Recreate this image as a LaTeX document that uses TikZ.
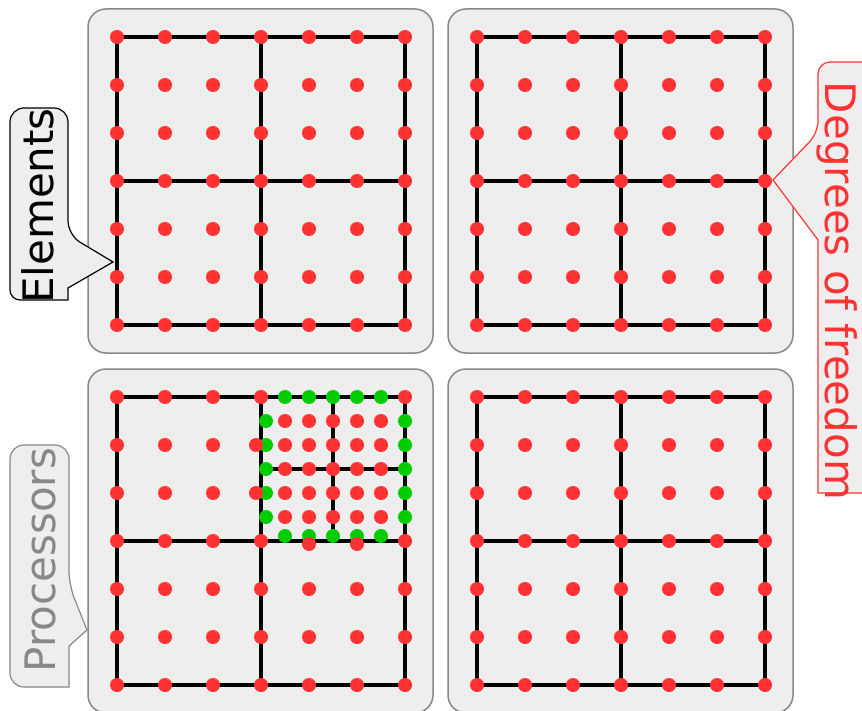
\documentclass[tikz,border=0pt]{standalone}
\usepackage{fontspec}
\setmainfont{DejaVu Sans}
\definecolor{dotred}{HTML}{FF3333}
\definecolor{dotgreen}{HTML}{00CC00}
\definecolor{panelfill}{HTML}{EEEEEE}
\definecolor{panelgray}{HTML}{888888}
\begin{document}
\begin{tikzpicture}[x=1pt,y=-1pt,
  panel/.style={draw=panelgray, fill=panelfill, line width=1.5pt, rounded corners=18pt},
  gridline/.style={line width=3.5pt, draw=black},
  rdot/.style={fill=dotred},
  gdot/.style={fill=dotgreen},
  callout/.style={fill=panelfill, line width=1.2pt, line join=miter},
  labeltext/.style={font=\fontsize{42}{42}\selectfont, inner sep=0pt, anchor=base}]
\useasboundingbox (0,0) rectangle (862,711);
\clip (0,0) rectangle (862,711);
\fill[white] (0,0) rectangle (862,711);
% panels
\foreach \px/\py in {88/9, 448/9, 88/369, 448/369}
  \draw[panel] (\px,\py) rectangle ++(345,344);
% coarse grids
\foreach \ox/\oy in {117/37, 477/37, 117/397, 477/397} {
  \draw[gridline] (\ox,\oy) rectangle ++(288,288);
  \draw[gridline] (\ox+144,\oy) -- ++(0,288);
  \draw[gridline] (\ox,\oy+144) -- ++(288,0);
}
% refined element lines
\draw[gridline] (333,397) -- (333,541);
\draw[gridline] (261,469) -- (405,469);
% coarse dots, full panels
\foreach \ox/\oy in {117/37, 477/37, 477/397}
  \foreach \i in {0,...,6}
    \foreach \j in {0,...,6}
      \fill[rdot] (\ox+48*\i,\oy+48*\j) circle (7pt);
% bottom-left panel coarse dots
\foreach \i in {0,1,2}
  \foreach \j in {0,...,6}
    \fill[rdot] (117+48*\i,397+48*\j) circle (7pt);
\foreach \i in {3,...,6}
  \foreach \j in {4,5,6}
    \fill[rdot] (117+48*\i,397+48*\j) circle (7pt);
\foreach \x/\y in {261/397, 405/397, 261/541, 405/541}
  \fill[rdot] (\x,\y) circle (7pt);
% fine interior dots
\foreach \i in {0,...,4}
  \foreach \j in {0,...,4}
    \fill[rdot] (285+24*\i,421+24*\j) circle (7pt);
% green boundary dots
\foreach \k in {0,...,4} {
  \fill[gdot] (285+24*\k,397) circle (7pt);
  \fill[gdot] (285+24*\k,536) circle (7pt);
  \fill[gdot] (266,421+24*\k) circle (7pt);
  \fill[gdot] (405,421+24*\k) circle (7pt);
}
% shifted coarse edge dots
\foreach \x/\y in {256/445, 256/493, 309/544, 357/544}
  \fill[rdot] (\x,\y) circle (7pt);
% callouts
\draw[callout, draw=black] (40,108) [rounded corners=14pt] -- (68,108) -- (68,235) [sharp corners] -- (113,262) -- (68,288) -- (68,300) [rounded corners=10pt] -- (10,300) [rounded corners=14pt] -- (10,108) -- cycle;
\node[labeltext, rotate=90, text=black] (elements) at (53,206) {Elements};
\draw[callout, draw=panelgray] (40,445) [rounded corners=14pt] -- (69,445) -- (69,585) [sharp corners] -- (87,630) -- (69,646) -- (69,687) [rounded corners=14pt] -- (10,687) -- (10,445) -- cycle;
\node[labeltext, rotate=90, text=panelgray] (processors) at (55,560) {Processors};
\draw[callout, draw=dotred] (880,62) [rounded corners=12pt] -- (818,62) -- (818,133) [sharp corners] -- (773,180) -- (818,240) -- (818,493) [rounded corners=12pt] -- (880,493) -- cycle;
\node[labeltext, rotate=-90, text=dotred] (dof) at (825,291) {Degrees of freedom};
\end{tikzpicture}
\end{document}
